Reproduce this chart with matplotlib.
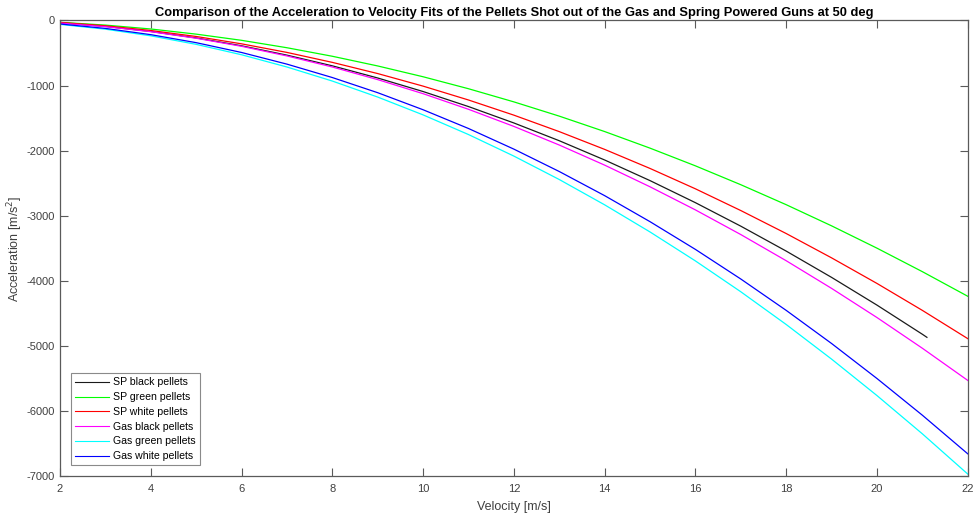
import matplotlib
matplotlib.use("Agg")
import matplotlib.pyplot as plt

plt.rcParams['font.family'] = ['Liberation Sans', 'DejaVu Sans']
plt.rcParams['axes.unicode_minus'] = False

# Velocity samples [m/s]
velocity = [2, 3, 4, 5, 6, 7, 8, 9, 10, 11, 12, 13, 14, 15, 16, 17, 18, 19, 20, 21, 22]
velocity_sp_black = [2, 3, 4, 5, 6, 7, 8, 9, 10, 11, 12, 13, 14, 15, 16, 17, 18, 19, 20, 21, 21.1]

# Acceleration [m/s^2]
sp_black = [-35, -91, -169, -268, -389, -533, -697, -884, -1092, -1323, -1575,
            -1848, -2144, -2461, -2800, -3161, -3544, -3948, -4374, -4822, -4869]
sp_green = [-28, -71, -131, -210, -305, -419, -550, -699, -865, -1049, -1251,
            -1470, -1707, -1962, -2234, -2524, -2831, -3156, -3499, -3860, -4238]
sp_white = [-30, -82, -154, -246, -359, -491, -644, -816, -1009, -1222, -1455,
            -1708, -1981, -2274, -2587, -2921, -3274, -3648, -4041, -4455, -4889]
gas_black = [-40, -95, -172, -273, -397, -545, -715, -909, -1125, -1365, -1628,
             -1914, -2223, -2556, -2911, -3290, -3692, -4117, -4565, -5037, -5531]
gas_green = [-60, -134, -236, -367, -527, -715, -931, -1177, -1451, -1753, -2084,
             -2444, -2833, -3250, -3695, -4169, -4672, -5204, -5764, -6352, -6970]
gas_white = [-54, -122, -218, -341, -492, -671, -877, -1110, -1372, -1660, -1977,
             -2321, -2692, -3092, -3518, -3973, -4455, -4964, -5502, -6066, -6659]

labels = ['SP black pellets', 'SP green pellets', 'SP white pellets',
          'Gas black pellets', 'Gas green pellets', 'Gas white pellets']

fig = plt.figure(figsize=(9.74, 5.13), dpi=100)
ax = fig.add_axes([0.0616, 0.0721, 0.932, 0.888])

ax.plot(velocity_sp_black, sp_black, color='#1a1a1a', lw=0.9, label=labels[0])
ax.plot(velocity, sp_green, color='#00ff00', lw=0.9, label=labels[1])
ax.plot(velocity, sp_white, color='#ff0000', lw=0.9, label=labels[2])
ax.plot(velocity, gas_black, color='#ff00ff', lw=0.9, label=labels[3])
ax.plot(velocity, gas_green, color='#00ffff', lw=0.9, label=labels[4])
ax.plot(velocity, gas_white, color='#0000ff', lw=0.9, label=labels[5])

ax.set_xlim(2, 22)
ax.set_ylim(-7000, 0)
ax.set_xticks(range(2, 23, 2))
ax.set_yticks(range(-7000, 1, 1000))

axis_col = '#5a5a5a'
for sp in ax.spines.values():
    sp.set_color(axis_col)
    sp.set_linewidth(0.9)
ax.tick_params(direction='in', length=6, width=0.8, colors=axis_col,
               labelcolor='#404040', labelsize=8, top=True, right=True)
ax.tick_params(axis='x', pad=6)

ax.set_xlabel('Velocity [m/s]', fontsize=9, color='#404040', labelpad=5)
ax.set_ylabel('Acceleration [m/s$^2$]', fontsize=9, color='#404040', labelpad=1)
ax.set_title('Comparison of the Acceleration to Velocity Fits of the Pellets Shot out '
             'of the Gas and Spring Powered Guns at 50 deg',
             fontsize=9.3, fontweight='bold', pad=3)

leg = ax.legend(loc='lower left', fontsize=7.6, fancybox=False, framealpha=1,
                edgecolor='#8a8a8a', handlelength=3.2, handletextpad=0.4,
                labelspacing=0.45, borderaxespad=1.0, borderpad=0.4)
leg.get_frame().set_linewidth(0.8)
for line in leg.get_lines():
    line.set_linewidth(0.8)

fig.savefig('out.png', dpi=100)
